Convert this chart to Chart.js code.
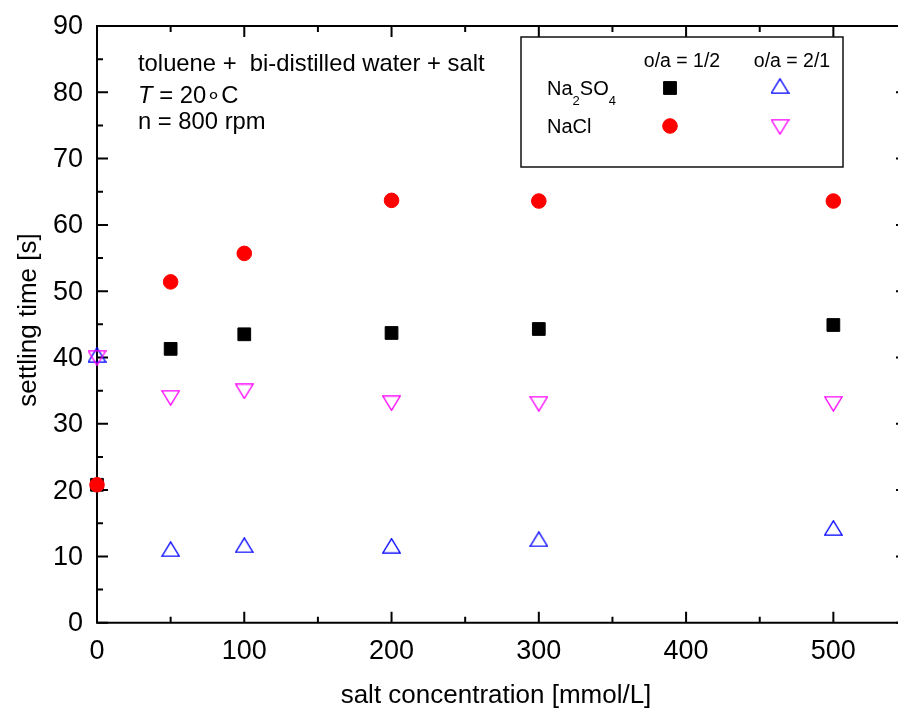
<!DOCTYPE html>
<html><head><meta charset="utf-8">
<script src="https://cdn.jsdelivr.net/npm/chart.js@4.4.1/dist/chart.umd.min.js"></script>
<style>
html,body{margin:0;padding:0;background:#fff;overflow:hidden;width:898px;height:711px;}
#wrap{position:relative;width:912px;height:711px;}
canvas{display:block;}
</style></head><body>
<div id="wrap"><canvas id="c" width="912" height="711"></canvas></div>
<script>
// ---- data ----
const concentrations = [0, 50, 100, 200, 300, 500];
const na2so4_oa12 = [20.8, 41.3, 43.5, 43.7, 44.3, 44.9];
const nacl_oa12   = [20.8, 51.4, 55.7, 63.7, 63.6, 63.6];
const na2so4_oa21 = [40.4, 11.1, 11.7, 11.6, 12.6, 14.3];
const nacl_oa21   = [39.9, 33.9, 34.9, 33.1, 33.0, 33.0];
const xTicks = [0, 100, 200, 300, 400, 500];
const xMinorTicks = [50, 150, 250, 350, 450];
const yTicks = [0, 10, 20, 30, 40, 50, 60, 70, 80, 90];
const yMinorTicks = [5, 15, 25, 35, 45, 55, 65, 75, 85];
const xTitle = 'salt concentration [mmol/L]';
const yTitle = 'settling time [s]';
const noteLines = ['toluene +  bi-distilled water + salt', 'T = 20\u2218C', 'n = 800 rpm'];
const legendHeaders = ['o/a = 1/2', 'o/a = 2/1'];

const FONT = '"Liberation Sans", Arial, Helvetica, sans-serif';

function triangleImage(color, down) {
  const W = 19, H = 16, c = document.createElement('canvas');
  c.width = W; c.height = H;
  const g = c.getContext('2d');
  g.strokeStyle = color; g.lineWidth = 1.3; g.lineJoin = 'miter';
  g.beginPath();
  if (!down) {
    g.moveTo(W / 2, 0.8); g.lineTo(W - 0.8, H - 0.8); g.lineTo(0.8, H - 0.8);
  } else {
    g.moveTo(0.8, 0.8); g.lineTo(W - 0.8, 0.8); g.lineTo(W / 2, H - 0.8);
  }
  g.closePath(); g.stroke();
  return c;
}
const triUp = triangleImage('#0000ff', false);
const triDown = triangleImage('#ff00ff', true);

function pts(ys) { return concentrations.map((x, i) => ({x: x, y: ys[i]})); }

const frame = {
  id: 'frame',
  beforeDatasetsDraw(chart) {
    const ctx = chart.ctx, xs = chart.scales.x, ys = chart.scales.y;
    const L = xs.getPixelForValue(xs.min), R = xs.getPixelForValue(xs.max);
    const B = ys.getPixelForValue(ys.min), T = ys.getPixelForValue(ys.max);
    ctx.save();
    ctx.strokeStyle = '#000'; ctx.lineWidth = 2; ctx.lineCap = 'square';
    ctx.beginPath(); ctx.rect(L, T, R - L, B - T); ctx.stroke();
    ctx.lineCap = 'butt';
    const major = 11, minor = 6;
    ctx.beginPath();
    xTicks.forEach(v => { const p = xs.getPixelForValue(v);
      ctx.moveTo(p, B); ctx.lineTo(p, B - major); ctx.moveTo(p, T); ctx.lineTo(p, T + major); });
    xMinorTicks.forEach(v => { const p = xs.getPixelForValue(v);
      ctx.moveTo(p, B); ctx.lineTo(p, B - minor); ctx.moveTo(p, T); ctx.lineTo(p, T + minor); });
    yTicks.forEach(v => { const p = ys.getPixelForValue(v);
      ctx.moveTo(L, p); ctx.lineTo(L + major, p); ctx.moveTo(R, p); ctx.lineTo(R - major, p); });
    yMinorTicks.forEach(v => { const p = ys.getPixelForValue(v);
      ctx.moveTo(L, p); ctx.lineTo(L + minor, p); ctx.moveTo(R, p); ctx.lineTo(R - minor, p); });
    ctx.stroke();
    ctx.restore();
  },
  afterDraw(chart) {
    const ctx = chart.ctx, xs = chart.scales.x, ys = chart.scales.y;
    const L = xs.getPixelForValue(xs.min), B = ys.getPixelForValue(ys.min);
    ctx.save();
    ctx.fillStyle = '#000';
    // tick labels
    ctx.font = '27px ' + FONT;
    ctx.textAlign = 'right'; ctx.textBaseline = 'middle';
    yTicks.forEach(v => ctx.fillText(String(v), L - 14, ys.getPixelForValue(v) + 1));
    ctx.textAlign = 'center'; ctx.textBaseline = 'alphabetic';
    xTicks.forEach(v => ctx.fillText(String(v), xs.getPixelForValue(v), B + 36));
    // axis titles
    ctx.font = '26px ' + FONT;
    ctx.fillText(xTitle, 496, 703);
    ctx.save();
    ctx.translate(36, 320); ctx.rotate(-Math.PI / 2);
    ctx.fillText(yTitle, 0, 0);
    ctx.restore();
    // annotation
    ctx.textAlign = 'left';
    ctx.font = '23.8px ' + FONT;
    ctx.fillText(noteLines[0], 138, 71);
    ctx.font = 'italic 23.8px ' + FONT;
    ctx.fillText('T', 138, 103);
    const tw = ctx.measureText('T').width;
    ctx.font = '23.8px ' + FONT;
    ctx.fillText(noteLines[1].slice(1), 138 + tw, 103);
    ctx.fillText(noteLines[2], 138, 129);
    // legend box
    ctx.lineWidth = 1.5; ctx.strokeStyle = '#111';
    ctx.strokeRect(521, 37, 322, 130);
    ctx.font = '19.5px ' + FONT;
    ctx.textAlign = 'center';
    ctx.fillText(legendHeaders[0], 682, 67);
    ctx.fillText(legendHeaders[1], 792, 67);
    ctx.textAlign = 'left';
    ctx.font = '20px ' + FONT;
    ctx.fillText('Na', 547, 95);
    let x = 547 + ctx.measureText('Na').width;
    ctx.font = '13px ' + FONT; ctx.fillText('2', x, 105);
    x += ctx.measureText('2').width;
    ctx.font = '20px ' + FONT; ctx.fillText('SO', x, 95);
    x += ctx.measureText('SO').width;
    ctx.font = '13px ' + FONT; ctx.fillText('4', x, 105);
    ctx.font = '20px ' + FONT; ctx.fillText('NaCl', 547, 133);
    // legend markers
    ctx.fillStyle = '#000'; ctx.strokeStyle = '#000'; ctx.lineWidth = 1;
    ctx.beginPath(); ctx.rect(670 - 6.4, 88 - 6.4, 12.8, 12.8); ctx.fill(); ctx.stroke();
    ctx.fillStyle = '#ff0000'; ctx.strokeStyle = '#ff0000';
    ctx.beginPath(); ctx.arc(670, 126, 7.3, 0, Math.PI * 2); ctx.fill(); ctx.stroke();
    ctx.drawImage(triUp, 780 - triUp.width / 2, 86 - triUp.height / 2);
    ctx.drawImage(triDown, 780 - triDown.width / 2, 127 - triDown.height / 2);
    ctx.restore();
  }
};

new Chart(document.getElementById('c'), {
  type: 'scatter',
  data: {
    datasets: [
      {label: 'NaCl o/a = 2/1', data: pts(nacl_oa21), pointStyle: triDown, order: 0, clip: false},
      {label: 'NaCl o/a = 1/2', data: pts(nacl_oa12), pointStyle: 'circle', radius: 7.3,
        backgroundColor: '#ff0000', borderColor: '#ff0000', borderWidth: 1, order: 1, clip: false},
      {label: 'Na2SO4 o/a = 2/1', data: pts(na2so4_oa21), pointStyle: triUp, order: 2, clip: false},
      {label: 'Na2SO4 o/a = 1/2', data: pts(na2so4_oa12), pointStyle: 'rect', radius: 9,
        backgroundColor: '#000000', borderColor: '#000000', borderWidth: 1, order: 3, clip: false}
    ]
  },
  options: {
    responsive: false,
    animation: false,
    devicePixelRatio: 1,
    events: [],
    layout: {autoPadding: false, padding: {left: 97, top: 26, right: 5, bottom: 88.3}},
    plugins: {legend: {display: false}, tooltip: {enabled: false}},
    scales: {
      x: {type: 'linear', min: 0, max: 550, display: false},
      y: {type: 'linear', min: 0, max: 90, display: false}
    }
  },
  plugins: [frame]
});
</script>
</body></html>
